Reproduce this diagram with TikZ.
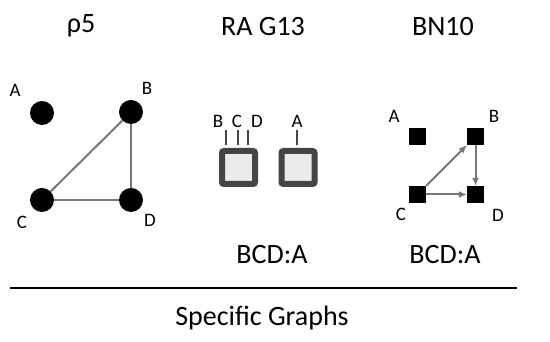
\documentclass[tikz,border=0pt]{standalone}
\usepackage{fontspec}
\setmainfont{Carlito}
\usepackage{tikz}
\usetikzlibrary{arrows.meta,positioning}
\definecolor{edgegray}{HTML}{777777}
\definecolor{boxgray}{HTML}{454545}
\definecolor{boxfill}{HTML}{EBEBEB}
\tikzset{
  title/.style={font=\fontsize{28}{30}\selectfont, anchor=base},
  lbl/.style={font=\fontsize{19}{21}\selectfont, inner sep=0pt},
  dot/.style={circle, fill=black, minimum size=24pt, inner sep=0pt},
  sq/.style={rectangle, fill=black, minimum size=17pt, inner sep=0pt},
  raset/.style={rectangle, draw=boxgray, line width=6pt, fill=boxfill,
    minimum size=33pt, inner sep=0pt, rounded corners=2pt},
  undir/.style={line width=2pt, draw=edgegray},
  dirarr/.style={-{Latex[length=8pt,width=7pt]}, line width=2pt, draw=edgegray}
}
\begin{document}
\begin{tikzpicture}[x=1pt,y=1pt]
  \useasboundingbox (0,0) rectangle (550,342);
  % titles
  \node[title] (tRho) at (81,309) {ρ5};
  \node[title] (tRa) at (263,306) {RA G13};
  \node[title] (tBn) at (443,306) {BN10};

  % rho5: undirected graph
  \node[dot] (rA) at (42,229) {};
  \node[dot] (rB) at (131,230) {};
  \node[dot] (rC) at (42,142) {};
  \node[dot] (rD) at (131,142) {};
  \node[lbl] at (15,252) {A};
  \node[lbl] at (147,254) {B};
  \node[lbl] at (22,120) {C};
  \node[lbl] at (150,122) {D};
  \draw[undir] (rB) -- (rC);
  \draw[undir] (rB) -- (rD);
  \draw[undir] (rC) -- (rD);

  % RA G13: two variable sets
  \node[raset] (setL) at (238.5,174.5) {};
  \node[raset] (setR) at (298,174.5) {};
  \foreach \xx/\vn/\lx in {226/B/218, 238/C/237, 248/D/257} {
    \coordinate (top\vn) at (\xx,212);
    \draw[line width=1.8pt, draw=boxgray] (top\vn) -- (\xx,197);
    \node[lbl] at (\lx,221) {\vn};
  }
  \coordinate (topA) at (297,212);
  \draw[line width=1.8pt, draw=boxgray] (topA) -- (297,197);
  \node[lbl] at (297,221) {A};
  \node[title, anchor=center] (raRes) at (272,87) {BCD:A};

  % BN10: directed graph
  \node[sq] (bA) at (417.5,205.5) {};
  \node[sq] (bB) at (475.5,205.5) {};
  \node[sq] (bC) at (417.5,147.5) {};
  \node[sq] (bD) at (475.5,147.5) {};
  \node[lbl] at (394,226) {A};
  \node[lbl] at (494,226) {B};
  \node[lbl] at (401,128) {C};
  \node[lbl] at (498,127) {D};
  \draw[dirarr] (bC.north east) -- (bB.south west);
  \draw[dirarr] (bB) -- (bD);
  \draw[dirarr] (bC) -- (bD);
  \node[title, anchor=center] (bnRes) at (445,87) {BCD:A};

  % footer
  \coordinate (lineL) at (10,54);
  \coordinate (lineR) at (517,54);
  \draw[line width=1.8pt] (lineL) -- (lineR);
  \node[title] (foot) at (262,16) {Specific Graphs};
\end{tikzpicture}
\end{document}
